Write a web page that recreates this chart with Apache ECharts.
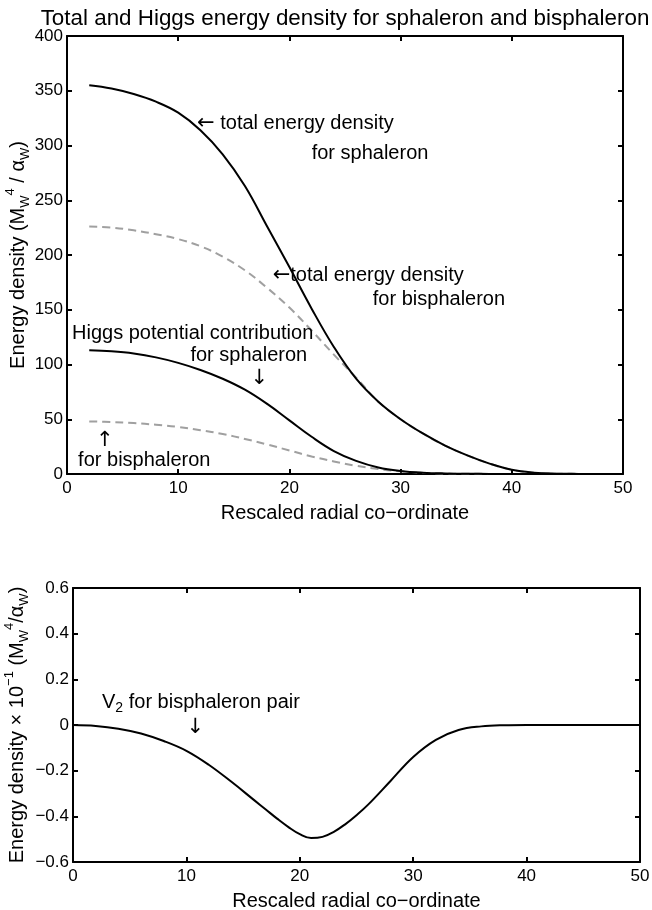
<!DOCTYPE html>
<html><head><meta charset="utf-8">
<script src="https://cdn.jsdelivr.net/npm/echarts@6/dist/echarts.min.js"></script>
<style>html,body{margin:0;padding:0;background:#fff}#c{width:652px;height:910px}</style>
</head><body><div id="c"></div>
<script>
// ---- data ----
const xTop = [2,4,6,8,10,12,14,16,18,20,22,24,26,28,30,32,34,36,38,40,42,44,46,48,50];
const sphTotal = [355,352,347,340,330,314,292,263,226,189,151,116,87,66,50,37,26,17,9.5,3.8,1.2,0.3,0.1,0,0];
const bisTotal = [226,225,222.5,219,214.5,208,198.5,186,170,152,131,109,88,66,50,37,26,17,9.5,3.8,1.2,0.3,0.1,0,0];
const sphHiggs = [113,112,110,106.5,101.5,95,87,77,64,49,34,21,12,6,2.8,1.2,0.5,0.2,0.1,0,0,0,0,0,0];
const bisHiggs = [48,47.5,46.5,45,43,40,36.5,32,27,21.5,16,11.5,7.5,4.5,2.5,1.2,0.5,0.2,0.1,0,0,0,0,0,0];
const xBot = [0,2,4,6,8,10,12,14,16,17,18,19,20,21,22,23,24,25,26,28,30,32,34,36,38,40,42,44,46,48,50];
const v2Pair = [0,-0.004,-0.016,-0.037,-0.07,-0.113,-0.175,-0.25,-0.33,-0.37,-0.41,-0.447,-0.478,-0.495,-0.49,-0.468,-0.435,-0.395,-0.35,-0.245,-0.14,-0.065,-0.022,-0.006,-0.001,0,0,0,0,0,0];
const topYTicks = [0,50,100,150,200,250,300,350,400];
const botYTicks = [-0.6,-0.4,-0.2,0,0.2,0.4,0.6];
const xTicks = [0,10,20,30,40,50];
// annotations: [grid, x, y, text]
const notes = [
  [0, 11.7, 320, '{r|\u2190}{a| total energy density}'],
  [0, 22.0, 293, '{a|for sphaleron}'],
  [0, 18.5, 181.5, '{r|\u2190}{a|total energy density}'],
  [0, 27.5, 159, '{a|for bisphaleron}'],
  [0, 0.45, 128.5, '{a|Higgs potential contribution}'],
  [0, 11.1, 108.5, '{a|for sphaleron}'],
  [0, 16.5, 87.5, '{r|\u2193}'],
  [0, 2.6, 31, '{r|\u2191}'],
  [0, 1.0, 12.5, '{a|for bisphaleron}'],
  [1, 2.56, 0.1, '{a|V}{s|2}{a| for bisphaleron pair}'],
  [1, 10.0, -0.01, '{r|\u2193}']
];

const FONT = '"Liberation Sans", Arial, Helvetica, sans-serif';
const pair = (xs, ys) => xs.map((x, i) => [x, ys[i]]);

function xAx(grid, pos, show){
  return {type:'value', gridIndex:grid, position:pos, min:0, max:50, interval:10,
    axisLine:{show:true, onZero:false, lineStyle:{color:'#000', width:2}},
    axisTick:{show:true, inside:true, length:5, lineStyle:{color:'#000', width:2}},
    axisLabel:{show:show, color:'#000', fontSize:17, fontFamily:FONT, margin:6},
    splitLine:{show:false},
    name: show ? 'Rescaled radial co\u2212ordinate' : '', nameLocation:'middle', nameGap:29, nameMoveOverlap:false,
    nameTextStyle:{color:'#000', fontSize:20, fontFamily:FONT}};
}
function yAx(grid, pos, show, min, max, iv, name, gap, fmt){
  return {type:'value', gridIndex:grid, position:pos, min:min, max:max, interval:iv,
    axisLine:{show:true, onZero:false, lineStyle:{color:'#000', width:2}},
    axisTick:{show:true, inside:true, length:5, lineStyle:{color:'#000', width:2}},
    axisLabel:{show:show, color:'#000', fontSize:17, fontFamily:FONT, margin:4, formatter:fmt},
    splitLine:{show:false},
    name: show ? name : '', nameLocation:'middle', nameGap:gap, nameRotate:90, nameMoveOverlap:false,
    nameTextStyle:{color:'#000', fontSize:20, fontFamily:FONT, lineHeight:28,
      rich:{a:{fontSize:20, fontFamily:FONT, color:'#000', lineHeight:28},
            sup:{fontSize:13, fontFamily:FONT, color:'#000', verticalAlign:'top', lineHeight:14},
            sub:{fontSize:13, fontFamily:FONT, color:'#000', verticalAlign:'bottom', lineHeight:14}}}};
}
const fmtTop = v => String(v);
const fmtBot = v => { const s = (Math.round(v*10)/10).toFixed(1); return v === 0 ? '0' : s.replace('-', '\u2212'); };

const solid = {color:'#000', width:2};
const dashed = {color:'#a0a0a0', width:2, type:[8,5]};
const SM = 0.4;

const option = {
  animation:false,
  backgroundColor:'#fff',
  title:{text:'Total and Higgs energy density for sphaleron and bisphaleron', left:340, textAlign:'center', top:3,
    textStyle:{color:'#000', fontSize:22.4, fontWeight:'normal', fontFamily:FONT}},
  grid:[{left:67, right:29, top:36, height:438, outerBoundsMode:'none', containLabel:false},
        {left:73, right:12, top:588, height:274, outerBoundsMode:'none', containLabel:false}],
  xAxis:[xAx(0,'bottom',true), xAx(0,'top',false), xAx(1,'bottom',true), xAx(1,'top',false)],
  yAxis:[
    yAx(0,'left',true,0,400,50,'{a|Energy density (M}{sub|W}{sup|4}{a| / \u03b1}{sub|W}{a|)}',35,fmtTop),
    yAx(0,'right',false,0,400,50,'',0,fmtTop),
    yAx(1,'left',true,-0.6,0.6,0.2,'{a|Energy density \u00d7 10}{sup|\u22121}{a| (M}{sub|W}{sup|4}{a|/\u03b1}{sub|W}{a|)}',42,fmtBot),
    yAx(1,'right',false,-0.6,0.6,0.2,'',0,fmtBot)
  ],
  series:[
    {type:'line', xAxisIndex:0, yAxisIndex:0, data:pair(xTop,bisTotal), showSymbol:false, smooth:SM, lineStyle:dashed, z:2},
    {type:'line', xAxisIndex:0, yAxisIndex:0, data:pair(xTop,bisHiggs), showSymbol:false, smooth:SM, lineStyle:dashed, z:2},
    {type:'line', xAxisIndex:0, yAxisIndex:0, data:pair(xTop,sphTotal), showSymbol:false, smooth:SM, lineStyle:solid, z:3},
    {type:'line', xAxisIndex:0, yAxisIndex:0, data:pair(xTop,sphHiggs), showSymbol:false, smooth:SM, lineStyle:solid, z:3},
    {type:'line', xAxisIndex:2, yAxisIndex:2, data:pair(xBot,v2Pair), showSymbol:false, smooth:SM, lineStyle:solid, z:3}
  ]
};
const chart = echarts.init(document.getElementById('c'), null, {renderer:'canvas'});
chart.setOption(option);
const gfx = notes.map(n => {
  const p = chart.convertToPixel({xAxisIndex: n[0]===0?0:2, yAxisIndex: n[0]===0?0:2}, [n[1], n[2]]);
  return {type:'text', x:p[0], y:p[1], z:10, style:{text:n[3], fill:'#000', fontSize:20, fontFamily:FONT,
    align:'left', verticalAlign:'middle',
    rich:{a:{fontSize:20, fontFamily:FONT, fill:'#000', lineHeight:26, verticalAlign:'middle'},
          r:{fontSize:21, fontFamily:'"DejaVu Sans", sans-serif', fill:'#000', lineHeight:26, verticalAlign:'middle'},
          s:{fontSize:14, fontFamily:FONT, fill:'#000', lineHeight:14, verticalAlign:'bottom'}}}};
});
chart.setOption({graphic:gfx});
</script></body></html>
